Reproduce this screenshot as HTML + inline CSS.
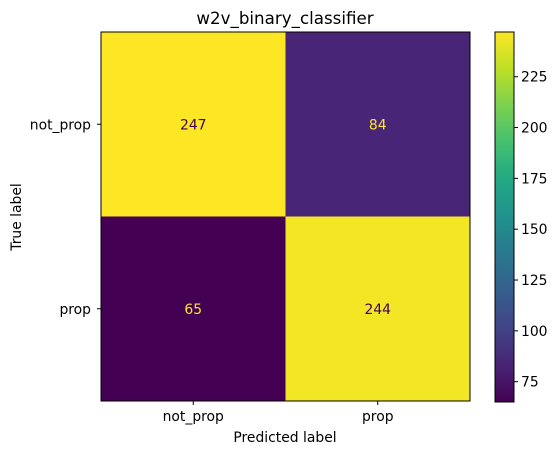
<!DOCTYPE html>
<html><head><meta charset="utf-8"><style>body{margin:0;background:#fff}svg{font-family:"DejaVu Sans","Liberation Sans",sans-serif}</style></head>
<body>
<svg id="c" width="559" height="455" xmlns="http://www.w3.org/2000/svg">
<defs><linearGradient id="vir" x1="0" y1="1" x2="0" y2="0">
<stop offset="0" stop-color="#440154"/><stop offset="0.1" stop-color="#482475"/><stop offset="0.2" stop-color="#414487"/><stop offset="0.3" stop-color="#355f8d"/><stop offset="0.4" stop-color="#2a788e"/><stop offset="0.5" stop-color="#21918c"/><stop offset="0.6" stop-color="#22a884"/><stop offset="0.7" stop-color="#44bf70"/><stop offset="0.8" stop-color="#7ad151"/><stop offset="0.9" stop-color="#bddf26"/><stop offset="1" stop-color="#fde725"/></linearGradient></defs>
<text x="285" y="24" font-size="16.7" text-anchor="middle">w2v_binary_classifier</text>
<g id="cells"></g>
<rect x="495" y="32" width="19" height="370" fill="url(#vir)" stroke="#000" stroke-width="1"/>
<g id="cbt"></g>
<text x="285" y="442" font-size="13.9" text-anchor="middle">Predicted label</text>
<text transform="translate(21,217) rotate(-90)" font-size="13.9" text-anchor="middle">True label</text>
</svg>
<script>
const classes=["not_prop","prop"];
const values=[[247,84],[65,244]];
const cbTicks=[75,100,125,150,175,200,225];
const vmin=65,vmax=247;
const L=101,T=32,S=184.5,CT=32,CB=402;
const stops=[[68,1,84],[72,36,117],[65,68,135],[53,95,141],[42,120,142],[33,145,140],[34,168,132],[68,191,112],[122,209,81],[189,223,38],[253,231,37]];
function vir(t){t=Math.max(0,Math.min(1,t))*10;const i=Math.min(9,Math.floor(t)),f=t-i,a=stops[i],b=stops[i+1];return `rgb(${a.map((v,k)=>Math.round(v+(b[k]-v)*f)).join(",")})`;}
const NS="http://www.w3.org/2000/svg";
function mk(tag,attrs,parent){const e=document.createElementNS(NS,tag);for(const k in attrs)e.setAttribute(k,attrs[k]);parent.appendChild(e);return e;}
const g=document.getElementById("cells");
values.forEach((row,i)=>row.forEach((v,j)=>{
 const t=(v-vmin)/(vmax-vmin);
 const r=mk("rect",{x:L+j*S,y:T+i*S,width:S,height:S,fill:vir(t)},g);
 
 
 const tx=mk("text",{x:L+j*S+S/2,y:T+i*S+S/2+5,"font-size":13.9,"text-anchor":"middle",fill:t>0.5?"#440154":"#fde725"},g);
 tx.textContent=v;
 
 
}));
const fr=mk("rect",{x:L,y:T,width:2*S,height:2*S,fill:"none",stroke:"#000","stroke-width":1},g);


classes.forEach((c,k)=>{
 const c0=L+k*S+S/2;
 mk("line",{x1:c0,x2:c0,y1:T+2*S,y2:T+2*S+4,stroke:"#000"},g);
 const xl=mk("text",{x:c0,y:T+2*S+20,"font-size":13.9,"text-anchor":"middle"},g);xl.textContent=c;
 
 
 const ry=T+k*S+S/2;
 mk("line",{x1:L-4,x2:L,y1:ry,y2:ry,stroke:"#000"},g);
 const yl=mk("text",{x:L-10,y:ry+5,"font-size":13.9,"text-anchor":"end"},g);yl.textContent=c;
 
 
});
const cb=document.getElementById("cbt");
cbTicks.forEach(v=>{
 const y=CB-(v-vmin)/(vmax-vmin)*(CB-CT);
 mk("line",{x1:514,x2:518,y1:y,y2:y,stroke:"#000"},cb);
 const t=mk("text",{x:521,y:y+5,"font-size":13.9},cb);t.textContent=v;
 
 
});
</script>
</body></html>
